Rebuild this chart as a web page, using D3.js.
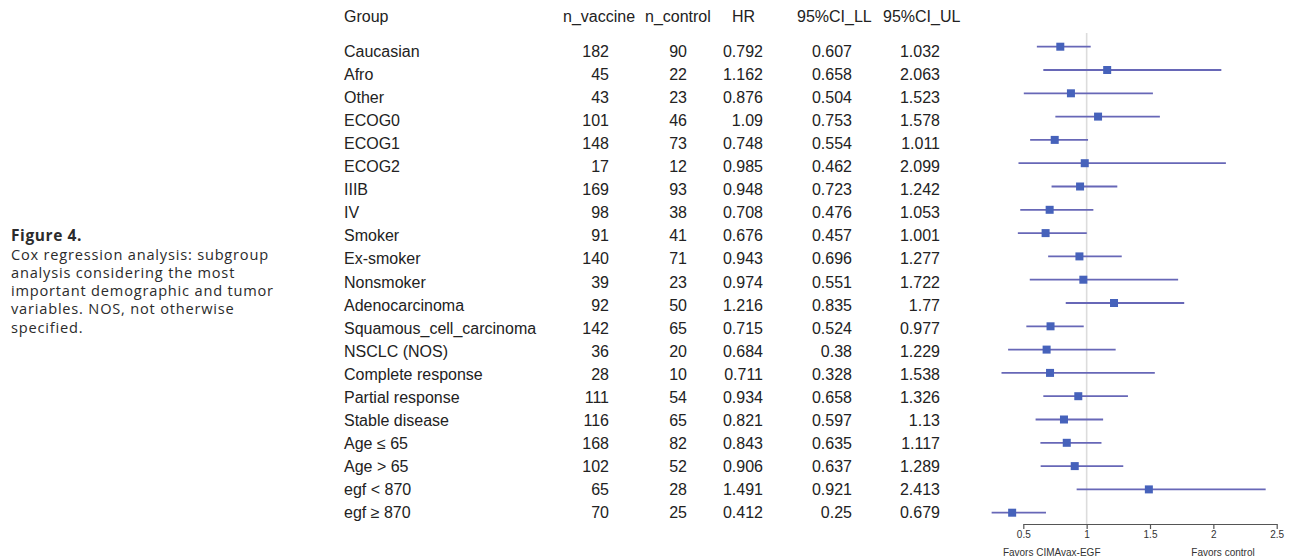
<!DOCTYPE html>
<html>
<head>
<meta charset="utf-8">
<script src="https://cdn.jsdelivr.net/npm/d3@7"></script>
<style>
  body { margin: 0; background: #fff; }
  svg { display: block; }
</style>
</head>
<body>
<script>
var groups = ["Caucasian", "Afro", "Other", "ECOG0", "ECOG1", "ECOG2", "IIIB", "IV",
  "Smoker", "Ex-smoker", "Nonsmoker", "Adenocarcinoma", "Squamous_cell_carcinoma",
  "NSCLC (NOS)", "Complete response", "Partial response", "Stable disease",
  "Age \u2264 65", "Age > 65", "egf < 870", "egf \u2265 870"];
var nVaccine = [182, 45, 43, 101, 148, 17, 169, 98, 91, 140, 39, 92, 142, 36, 28, 111, 116, 168, 102, 65, 70];
var nControl = [90, 22, 23, 46, 73, 12, 93, 38, 41, 71, 23, 50, 65, 20, 10, 54, 65, 82, 52, 28, 25];
var hr = [0.792, 1.162, 0.876, 1.09, 0.748, 0.985, 0.948, 0.708, 0.676, 0.943, 0.974, 1.216, 0.715, 0.684, 0.711, 0.934, 0.821, 0.843, 0.906, 1.491, 0.412];
var ciLL = [0.607, 0.658, 0.504, 0.753, 0.554, 0.462, 0.723, 0.476, 0.457, 0.696, 0.551, 0.835, 0.524, 0.38, 0.328, 0.658, 0.597, 0.635, 0.637, 0.921, 0.25];
var ciUL = [1.032, 2.063, 1.523, 1.578, 1.011, 2.099, 1.242, 1.053, 1.001, 1.277, 1.722, 1.77, 0.977, 1.229, 1.538, 1.326, 1.13, 1.117, 1.289, 2.413, 0.679];
var xTicks = [0.5, 1, 1.5, 2, 2.5];
var captionTitle = "Figure 4.";
var captionLines = ["Cox regression analysis: subgroup", "analysis considering the most",
  "important demographic and tumor", "variables. NOS, not otherwise", "specified."];

var width = 1290, height = 558;
var font = "'Liberation Sans', Arial, sans-serif";

var rows = groups.map(function(g, i) {
  return {group: g, nv: nVaccine[i], nc: nControl[i], hr: hr[i], ll: ciLL[i], ul: ciUL[i]};
});

var svg = d3.select("body").append("svg")
  .attr("width", width)
  .attr("height", height);

// caption on the left
var cap = svg.append("g")
  .attr("font-family", "'Open Sans', sans-serif")
  .attr("fill", "#2b2b2b");
cap.append("text")
  .attr("x", 11).attr("y", 240.5)
  .attr("font-weight", "bold")
  .attr("font-size", "15.5px")
  .attr("letter-spacing", "0.6px")
  .text(captionTitle);
cap.selectAll(".cap-line")
  .data(captionLines)
  .enter().append("text")
  .attr("class", "cap-line")
  .attr("x", 11)
  .attr("y", function(d, i) { return 259.5 + i * 18.3; })
  .attr("font-size", "14.6px")
  .attr("letter-spacing", "0.8px")
  .text(function(d) { return d; });

// table
var yText = d3.scalePoint().domain(groups).range([56.7, 518.3]);
var yMark = d3.scalePoint().domain(groups).range([46.7, 512.7]);

var columns = [
  {head: "Group", hx: 344, x: 344, anchor: "start", value: function(d) { return d.group; }},
  {head: "n_vaccine", hx: 563, x: 609, anchor: "end", value: function(d) { return d.nv; }},
  {head: "n_control", hx: 645, x: 687, anchor: "end", value: function(d) { return d.nc; }},
  {head: "HR", hx: 732, x: 763, anchor: "end", value: function(d) { return d.hr; }},
  {head: "95%CI_LL", hx: 797, x: 852, anchor: "end", value: function(d) { return d.ll; }},
  {head: "95%CI_UL", hx: 883, x: 940, anchor: "end", value: function(d) { return d.ul; }}
];

var table = svg.append("g")
  .attr("font-family", font)
  .attr("font-size", "16px")
  .attr("fill", "#222");

columns.forEach(function(c) {
  table.append("text")
    .attr("x", c.hx)
    .attr("y", 21.5)
    .text(c.head);
  table.selectAll(null)
    .data(rows)
    .enter().append("text")
    .attr("x", c.x)
    .attr("y", function(d) { return yText(d.group); })
    .attr("text-anchor", c.anchor)
    .text(c.value);
});

// forest plot
var xScale = d3.scaleLinear().domain([0.5, 2.5]).range([1023.3, 1276.7]);
var axisY = 524;

var plot = svg.append("g");

plot.append("line")
  .attr("x1", xScale(1)).attr("x2", xScale(1))
  .attr("y1", 33).attr("y2", axisY)
  .attr("stroke", "#dcdcdc")
  .attr("stroke-width", 1.6);

plot.selectAll(".ci")
  .data(rows)
  .enter().append("line")
  .attr("class", "ci")
  .attr("x1", function(d) { return xScale(d.ll); })
  .attr("x2", function(d) { return xScale(d.ul); })
  .attr("y1", function(d) { return yMark(d.group); })
  .attr("y2", function(d) { return yMark(d.group); })
  .attr("stroke", "#6767b7")
  .attr("stroke-width", 1.8);

plot.selectAll(".pt")
  .data(rows)
  .enter().append("rect")
  .attr("class", "pt")
  .attr("x", function(d) { return xScale(d.hr) - 4; })
  .attr("y", function(d) { return yMark(d.group) - 4; })
  .attr("width", 8)
  .attr("height", 8)
  .attr("fill", "#4662bb");

var xAxis = d3.axisBottom(xScale)
  .tickValues(xTicks)
  .tickFormat(d3.format(""))
  .tickSize(5)
  .tickSizeOuter(0);

var ax = plot.append("g")
  .attr("transform", "translate(0," + axisY + ")")
  .call(xAxis);
ax.select(".domain").attr("stroke", "#555").attr("stroke-width", 1.2);
ax.selectAll(".tick line").attr("stroke", "#555").attr("stroke-width", 1.2);
ax.selectAll(".tick text")
  .attr("font-family", font)
  .attr("font-size", "10px")
  .attr("fill", "#333")
  .attr("dy", "0.6em");

plot.append("text")
  .attr("x", 1051.7).attr("y", 556)
  .attr("text-anchor", "middle")
  .attr("font-family", font)
  .attr("font-size", "10px")
  .attr("fill", "#333")
  .text("Favors CIMAvax-EGF");
plot.append("text")
  .attr("x", 1223).attr("y", 556)
  .attr("text-anchor", "middle")
  .attr("font-family", font)
  .attr("font-size", "10px")
  .attr("fill", "#333")
  .text("Favors control");
</script>
</body>
</html>
